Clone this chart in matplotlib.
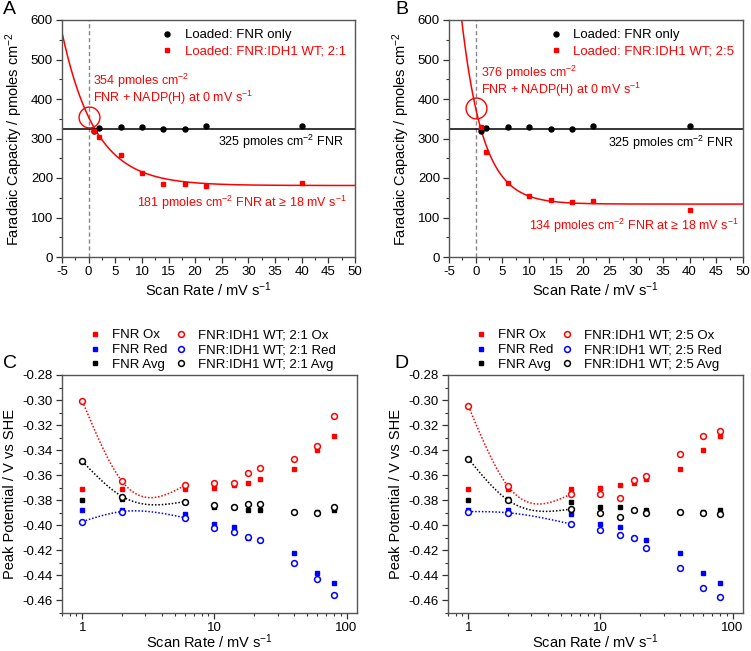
import numpy as np
import matplotlib
matplotlib.use('Agg')
import matplotlib.pyplot as plt
from matplotlib.ticker import MultipleLocator, FixedLocator, LogLocator, NullFormatter, FormatStrFormatter

plt.rcParams['font.family'] = ['Liberation Sans', 'DejaVu Sans']
plt.rcParams['mathtext.fontset'] = 'custom'
plt.rcParams['mathtext.rm'] = 'Liberation Sans'
plt.rcParams['mathtext.default'] = 'regular'
plt.rcParams['axes.unicode_minus'] = False

# ---- panel A / B : faradaic capacity ----
rate_fc = [1, 2, 6, 10, 14, 18, 22, 40]
fnr_only = [318, 327, 330, 330, 324, 325, 332, 332]
idh_21 = [318, 303, 257, 213, 186, 185, 179, 188]
idh_25 = [328, 266, 187, 154, 145, 138, 142, 120]
fnr_level = 325
# exponential fit: plateau, value at 0 mV/s, decay constant (mV/s)
fit_21 = (181, 354, 6.2)
fit_25 = (134, 376, 4.0)

# ---- panel C / D : peak potentials ----
rate_ep = [1, 2, 6, 10, 14, 18, 22, 40, 60, 80]
fnr_ox = [-0.371, -0.371, -0.371, -0.370, -0.368, -0.366, -0.363, -0.355, -0.340, -0.329]
fnr_red = [-0.388, -0.388, -0.391, -0.399, -0.401, -0.410, -0.412, -0.422, -0.438, -0.446]
fnr_avg = [-0.380, -0.379, -0.381, -0.385, -0.385, -0.388, -0.388, -0.389, -0.389, -0.388]

ox_21 = [-0.301, -0.365, -0.368, -0.366, -0.366, -0.358, -0.354, -0.347, -0.337, -0.313]
red_21 = [-0.397, -0.389, -0.394, -0.402, -0.405, -0.409, -0.412, -0.430, -0.443, -0.456]
avg_21 = [-0.349, -0.377, -0.381, -0.384, -0.385, -0.383, -0.383, -0.389, -0.390, -0.385]

ox_25 = [-0.305, -0.369, -0.375, -0.375, -0.378, -0.364, -0.361, -0.343, -0.329, -0.325]
red_25 = [-0.389, -0.390, -0.399, -0.404, -0.408, -0.410, -0.418, -0.434, -0.450, -0.457]
avg_25 = [-0.347, -0.380, -0.387, -0.390, -0.393, -0.388, -0.390, -0.389, -0.390, -0.391]

RED = '#ff0000'
BLUE = '#0000ff'
FRAME = '#555555'
W, H = 751, 651


def px_axes(fig, left, right, top, bottom):
    return fig.add_axes([left / W, 1 - bottom / H, (right - left) / W, (bottom - top) / H])


def style_axes(ax):
    for s in ax.spines.values():
        s.set_color(FRAME)
        s.set_linewidth(1.0)
    ax.tick_params(which='both', direction='out', colors='#333333', labelcolor='black',
                   top=False, right=False, labelsize=9.5)
    ax.tick_params(which='major', length=4, width=0.9, pad=2.5)
    ax.tick_params(which='minor', length=2.2, width=0.8)


def spline(x, y, n=80):
    # natural cubic spline in log10(x), like the smoothed connector in the original
    u = np.log10(np.asarray(x, float))
    y = np.asarray(y, float)
    k = len(u)
    h = np.diff(u)
    A = np.zeros((k, k))
    b = np.zeros(k)
    A[0, 0] = A[-1, -1] = 1
    for i in range(1, k - 1):
        A[i, i - 1] = h[i - 1]
        A[i, i] = 2 * (h[i - 1] + h[i])
        A[i, i + 1] = h[i]
        b[i] = 6 * ((y[i + 1] - y[i]) / h[i] - (y[i] - y[i - 1]) / h[i - 1])
    M = np.linalg.solve(A, b)
    uu = np.linspace(u[0], u[-1], n)
    out = np.empty_like(uu)
    for j, t in enumerate(uu):
        i = min(np.searchsorted(u, t, side='right') - 1, k - 2)
        a = u[i + 1] - t
        c = t - u[i]
        out[j] = (M[i] * a ** 3 + M[i + 1] * c ** 3) / (6 * h[i]) \
            + (y[i] / h[i] - M[i] * h[i] / 6) * a + (y[i + 1] / h[i] - M[i + 1] * h[i] / 6) * c
    return 10 ** uu, out


def capacity_panel(ax, idh, fit, ratio, txt_top, txt_low, low_y):
    plateau, y0, tau = fit
    ax.axvline(0, color='#888888', linestyle=(0, (3, 2)), linewidth=1.0, zorder=1)
    ax.axhline(fnr_level, color='black', linewidth=1.1, zorder=2)
    xx = np.linspace(-5, 50, 300)
    ax.plot(xx, plateau + (y0 - plateau) * np.exp(-xx / tau), color=RED, linewidth=1.1, zorder=2)
    ax.plot(rate_fc, fnr_only, 'o', color='black', ms=3.6, zorder=3, label='Loaded: FNR only')
    ax.plot(rate_fc, idh, 's', color=RED, ms=3.4, zorder=4, label='Loaded: FNR:IDH1 WT; ' + ratio)
    ax.plot([0], [y0], 'o', ms=15, mfc='none', mec=RED, mew=1.0, zorder=5)
    ax.set_xlim(-5, 50)
    ax.set_ylim(0, 600)
    ax.xaxis.set_major_locator(MultipleLocator(5))
    ax.xaxis.set_minor_locator(MultipleLocator(2.5))
    ax.yaxis.set_major_locator(MultipleLocator(100))
    ax.yaxis.set_minor_locator(MultipleLocator(50))
    ax.set_xlabel('Scan Rate / mV s$^{-1}$', fontsize=10.5, labelpad=2)
    ax.set_ylabel('Faradaic Capacity / pmoles cm$^{-2}$', fontsize=10.5, labelpad=4)
    style_axes(ax)
    leg = ax.legend(loc='upper right', frameon=False, fontsize=9.5, handlelength=0.8,
                    handletextpad=0.9, borderaxespad=0.3, labelspacing=0.3)
    leg.get_texts()[1].set_color(RED)
    tx, ty1, ty2 = txt_top
    ax.text(tx, ty1, '%d pmoles cm$^{-2}$' % y0, color=RED, fontsize=9, va='center')
    ax.text(tx, ty2, 'FNR + NADP(H) at 0 mV s$^{-1}$', color=RED, fontsize=9, va='center')
    ax.text(txt_low[0], txt_low[1], '%d pmoles cm$^{-2}$ FNR' % fnr_level, color='black',
            fontsize=9, va='center', ha='right')
    ax.text(txt_low[2], low_y, '%d pmoles cm$^{-2}$ FNR at \u2265 18 mV s$^{-1}$' % plateau,
            color=RED, fontsize=9, va='center', ha='right')


def potential_panel(ax, ox, red, avg, ratio):
    for ys, c in ((ox, RED), (red, BLUE), (avg, 'black')):
        sx, sy = spline(rate_ep[:3], ys[:3])
        ax.plot(sx, sy, color=c, linestyle=(0, (1, 1.2)), linewidth=1.1, zorder=1)
    h = []
    for ys, c, name in ((fnr_ox, RED, 'FNR Ox'), (fnr_red, BLUE, 'FNR Red'), (fnr_avg, 'black', 'FNR Avg')):
        h += ax.plot(rate_ep, ys, 's', color=c, ms=3.2, zorder=2, label=name)
    for ys, c, name in ((ox, RED, 'Ox'), (red, BLUE, 'Red'), (avg, 'black', 'Avg')):
        h += ax.plot(rate_ep, ys, 'o', mfc='white', mec=c, mew=1.1, ms=4.2, zorder=3,
                     label='FNR:IDH1 WT; %s %s' % (ratio, name))
    ax.set_xscale('log')
    ax.set_xlim(0.7, 120)
    ax.set_ylim(-0.47, -0.28)
    ax.xaxis.set_major_locator(FixedLocator([1, 10, 100]))
    ax.set_xticklabels(['1', '10', '100'])
    ax.xaxis.set_minor_locator(LogLocator(base=10, subs=np.arange(2, 10)))
    ax.xaxis.set_minor_formatter(NullFormatter())
    ax.yaxis.set_major_locator(MultipleLocator(0.02))
    ax.yaxis.set_minor_locator(MultipleLocator(0.01))
    ax.yaxis.set_major_formatter(FormatStrFormatter('%.2f'))
    ax.set_xlabel('Scan Rate / mV s$^{-1}$', fontsize=10.5, labelpad=-1)
    ax.set_ylabel('Peak Potential / V vs SHE', fontsize=10.5, labelpad=4)
    style_axes(ax)
    ax.legend(handles=h, ncol=2, loc='lower left', bbox_to_anchor=(0.08, 1.0), frameon=False,
              fontsize=9.5, handlelength=0.8, handletextpad=0.9, columnspacing=0.6,
              labelspacing=0.2, borderaxespad=0.2, borderpad=0.1)


fig = plt.figure(figsize=(7.51, 6.51), dpi=100)

axA = px_axes(fig, 62, 355, 20, 257)
capacity_panel(axA, idh_21, fit_21, '2:1', (0.9, 445, 403), (47.8, 292, 48.4), 137)
axB = px_axes(fig, 449, 743, 20, 257)
capacity_panel(axB, idh_25, fit_25, '2:5', (1.0, 467, 424), (48.2, 290, 49.1), 79)

axC = px_axes(fig, 62, 357, 375, 613)
potential_panel(axC, ox_21, red_21, avg_21, '2:1')
axD = px_axes(fig, 448, 743, 375, 613)
potential_panel(axD, ox_25, red_25, avg_25, '2:5')

for lbl, x, y in (('A', 3, 10), ('B', 395, 10), ('C', 3, 363), ('D', 394, 363)):
    fig.text(x / W, 1 - y / H, lbl, fontsize=14, va='center', ha='left')

fig.savefig('out.png', dpi=100)
